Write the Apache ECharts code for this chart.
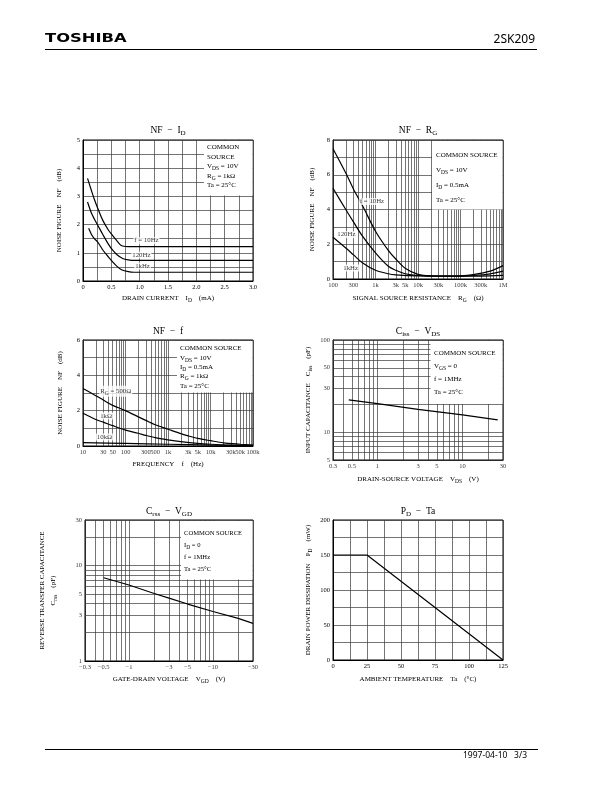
<!DOCTYPE html>
<html><head><meta charset="utf-8">
<script src="https://cdn.jsdelivr.net/npm/echarts@6/dist/echarts.min.js"></script>
<style>html,body{margin:0;padding:0;background:#fff}#c{width:612px;height:792px}</style>
</head><body><div id="c"></div>
<script>
// ================= DATA =================
// NF - ID  (ID in mA, NF in dB)
const nfId10Hz  = [[0.08,3.64],[0.15,3.2],[0.2,2.9],[0.26,2.58],[0.35,2.15],[0.45,1.8],[0.52,1.62],[0.6,1.42],[0.65,1.3],[0.7,1.24],[0.8,1.22],[3.0,1.22]];
const nfId120Hz = [[0.08,2.8],[0.15,2.4],[0.2,2.2],[0.26,1.98],[0.35,1.65],[0.45,1.3],[0.52,1.1],[0.6,0.93],[0.7,0.8],[0.8,0.75],[0.9,0.73],[3.0,0.73]];
const nfId1kHz  = [[0.1,1.87],[0.15,1.65],[0.2,1.5],[0.26,1.38],[0.35,1.1],[0.45,0.85],[0.52,0.69],[0.6,0.52],[0.68,0.4],[0.8,0.33],[0.9,0.31],[3.0,0.31]];
const nfIdCurveLabels = [[1.12,1.43,'f = 10Hz'],[1.03,0.92,'120Hz'],[1.05,0.53,'1kHz']];

// NF - RG  (RG in ohm, NF in dB)
const nfRg10Hz  = [[100,7.5],[200,6.1],[300,5.2],[500,4.2],[1000,2.75],[2000,1.65],[3000,1.15],[5000,0.62],[10000,0.27],[20000,0.18],[50000,0.17],[100000,0.18],[200000,0.25],[500000,0.45],[1000000,0.77]];
const nfRg120Hz = [[100,5.22],[200,4.0],[300,3.3],[500,2.45],[1000,1.5],[2000,0.73],[3000,0.5],[5000,0.3],[10000,0.2],[50000,0.17],[100000,0.17],[200000,0.2],[500000,0.3],[1000000,0.45]];
const nfRg1kHz  = [[100,2.4],[200,1.78],[300,1.4],[500,0.92],[1000,0.5],[2000,0.3],[3000,0.24],[10000,0.18],[100000,0.16],[300000,0.17],[1000000,0.21]];
const nfRgCurveLabels = [[828,4.46,'f = 10Hz'],[206,2.55,'120Hz'],[260,0.63,'1kHz']];

// NF - f  (f in Hz, NF in dB)
const nfF500  = [[10,3.26],[20,2.85],[30,2.6],[50,2.3],[100,2.0],[200,1.65],[300,1.45],[500,1.2],[1000,0.95],[2000,0.7],[3000,0.57],[5000,0.43],[10000,0.3],[20000,0.18],[50000,0.1],[100000,0.05]];
const nfF1k   = [[10,1.85],[20,1.5],[30,1.35],[50,1.15],[100,0.9],[200,0.72],[300,0.6],[500,0.47],[1000,0.35],[2000,0.25],[5000,0.15],[10000,0.1],[30000,0.05],[100000,0.03]];
const nfF10k  = [[10,0.19],[100,0.15],[1000,0.1],[10000,0.05],[100000,0.02]];
const nfFCurveLabels = [[59,3.1,'R{s|G} = 500\u03A9'],[35,1.7,'1k\u03A9'],[32,0.51,'10k\u03A9']];

// Ciss - VDS  (VDS in V, Ciss in pF)
const cissVds = [[0.46,22.4],[1,20.4],[3,17.7],[10,15.4],[26,13.6]];
// Crss - VGD  (|VGD| in V, Crss in pF)
const crssVgd = [[0.5,7.45],[1,6.25],[2,5.1],[3,4.55],[5,3.95],[10,3.3],[20,2.8],[30,2.48]];
// PD - Ta  (Ta in degC, PD in mW)
const pdTa = [[0,150],[25,150],[125,0]];

// tick labels
const rgTickVals = [100,300,1000,3000,5000,10000,30000,100000,300000,1000000];
const rgTickText = ['100','300','1k','3k','5k','10k','30k','100k','300k','1M'];
const fTickVals  = [10,30,50,100,300,500,1000,3000,5000,10000,30000,50000,100000];
const fTickText  = ['10','30','50','100','300','500','1k','3k','5k','10k','30k','50k','100k'];
const vdsTickVals = [0.3,0.5,1,3,5,10,30];
const vdsTickText = ['0.3','0.5','1','3','5','10','30'];
const cissTickVals = [5,10,30,50,100];
const cissTickText = ['5','10','30','50','100'];
const vgdTickVals = [0.3,0.5,1,3,5,10,30];
const vgdTickText = ['\u22120.3','\u22120.5','\u22121','\u22123','\u22125','\u221210','\u221230'];
const crssTickVals = [1,3,5,10,30];
const crssTickText = ['1','3','5','10','30'];

// ================= HELPERS =================
function logGrid(from, to) {
  const out = [];
  let dec = Math.pow(10, Math.floor(Math.log10(from) + 1e-9));
  while (dec <= to) {
    for (let m = 1; m <= 9; m++) {
      const v = +(m * dec).toPrecision(6);
      if (v >= from - 1e-9 && v <= to + 1e-9) out.push(v);
    }
    dec *= 10;
  }
  return out;
}

const serif = '"Liberation Serif","DejaVu Serif",serif';
const SUB = {fontSize: 5.5, fontFamily: serif, color: '#000', verticalAlign: 'middle', padding: [5, 0, 0, 0]};
const GSUB = {fontSize: 5.5, fontFamily: serif, fill: '#000', verticalAlign: 'middle', padding: [5, 0, 0, 0]};
const TSUB = {fontSize: 7, fontFamily: serif, fill: '#000', verticalAlign: 'middle', padding: [7, 0, 0, 0]};
const GRIDC = '#3a3a3a';

const grids = [
  {left: 83, top: 140, width: 170, height: 141},
  {left: 333, top: 140, width: 170, height: 139},
  {left: 83, top: 340, width: 170, height: 106},
  {left: 333, top: 340, width: 170, height: 120},
  {left: 85, top: 520, width: 168, height: 141},
  {left: 333, top: 520, width: 170, height: 140}
].map(g => Object.assign({show: true, borderColor: '#000', borderWidth: 1, containLabel: false}, g));

const labelStyle = {fontFamily: serif, fontSize: 6.5, color: '#000', margin: 3};
const nameStyle = {fontFamily: serif, fontSize: 7, color: '#000', lineHeight: 9, rich: {s: SUB}};

function axis(gi, opt) {
  return Object.assign({
    gridIndex: gi,
    axisLine: {show: true, lineStyle: {color: '#000', width: 1}},
    axisTick: {show: false},
    axisLabel: Object.assign({}, labelStyle),
    splitLine: {show: false},
    nameLocation: 'middle',
    nameTextStyle: nameStyle
  }, opt);
}
const lineSplit = {show: true, lineStyle: {color: GRIDC, width: 0.7}};

const xAxes = [
  axis(0, {type: 'value', min: 0, max: 3, interval: 0.25, splitLine: lineSplit,
    axisLabel: Object.assign({}, labelStyle, {formatter: v => (Math.round(v * 4) % 2 === 0) ? (v === 0 ? '0' : v.toFixed(1)) : ''}),
    name: 'DRAIN CURRENT    I{s|D}    (mA)', nameGap: 13}),
  axis(1, {type: 'log', logBase: 10, min: 100, max: 1000000, axisLabel: {show: false},
    name: 'SIGNAL SOURCE RESISTANCE    R{s|G}    (\u03A9)', nameGap: 15}),
  axis(2, {type: 'log', logBase: 10, min: 10, max: 100000, axisLabel: {show: false},
    name: 'FREQUENCY    f    (Hz)', nameGap: 14}),
  axis(3, {type: 'log', logBase: 10, min: 0.3, max: 30, axisLabel: {show: false},
    name: 'DRAIN-SOURCE VOLTAGE    V{s|DS}    (V)', nameGap: 15}),
  axis(4, {type: 'log', logBase: 10, min: 0.3, max: 30, axisLabel: {show: false},
    name: 'GATE-DRAIN VOLTAGE    V{s|GD}    (V)', nameGap: 14}),
  axis(5, {type: 'value', min: 0, max: 125, interval: 12.5, splitLine: lineSplit,
    axisLabel: Object.assign({}, labelStyle, {formatter: v => (v % 25 === 0) ? String(v) : ''}),
    name: 'AMBIENT TEMPERATURE    Ta    (\u00B0C)', nameGap: 15})
];
const yAxes = [
  axis(0, {type: 'value', min: 0, max: 5, interval: 0.5, splitLine: lineSplit,
    axisLabel: Object.assign({}, labelStyle, {formatter: v => Number.isInteger(v) ? String(v) : ''}),
    name: 'NOISE FIGURE    NF    (dB)', nameGap: 19}),
  axis(1, {type: 'value', min: 0, max: 8, interval: 1, splitLine: lineSplit,
    axisLabel: Object.assign({}, labelStyle, {formatter: v => (v % 2 === 0) ? String(v) : ''}),
    name: 'NOISE FIGURE    NF    (dB)', nameGap: 16}),
  axis(2, {type: 'value', min: 0, max: 6, interval: 1, splitLine: lineSplit,
    axisLabel: Object.assign({}, labelStyle, {formatter: v => (v % 2 === 0) ? String(v) : ''}),
    name: 'NOISE FIGURE    NF    (dB)', nameGap: 18}),
  axis(3, {type: 'log', logBase: 10, min: 5, max: 100, axisLabel: {show: false},
    name: 'INPUT CAPACITANCE    C{s|iss}    (pF)', nameGap: 20}),
  axis(4, {type: 'log', logBase: 10, min: 1, max: 30, axisLabel: {show: false},
    name: 'REVERSE TRANSFER CAPACITANCE\nC{s|rss}    (pF)', nameGap: 26,
    nameTextStyle: Object.assign({}, nameStyle, {lineHeight: 11})}),
  axis(5, {type: 'value', min: 0, max: 200, interval: 25, splitLine: lineSplit,
    axisLabel: Object.assign({}, labelStyle, {formatter: v => (v % 50 === 0) ? String(v) : ''}),
    name: 'DRAIN POWER DISSIPATION    P{s|D}    (mW)', nameGap: 20})
];

function gridLines(gi, xs, ys) {
  return {
    type: 'line', xAxisIndex: gi, yAxisIndex: gi, data: [], silent: true, z: 1,
    markLine: {
      silent: true, symbol: ['none', 'none'], animation: false, label: {show: false},
      lineStyle: {color: GRIDC, width: 0.7, type: 'solid'}, emphasis: {disabled: true},
      data: [].concat(xs.map(v => ({xAxis: v})), ys.map(v => ({yAxis: v})))
    }
  };
}
function tickLabels(gi, dir, vals, texts, fixed) {
  return {
    type: 'scatter', xAxisIndex: gi, yAxisIndex: gi, silent: true, z: 5, clip: false,
    symbolSize: 0.1, itemStyle: {color: 'rgba(0,0,0,0)'},
    data: vals.map(v => dir === 'x' ? [v, fixed] : [fixed, v]),
    label: {show: true, position: dir === 'x' ? 'bottom' : 'left', distance: 3,
      formatter: p => texts[p.dataIndex], fontFamily: serif, fontSize: 6.5, color: '#000'}
  };
}
function curve(gi, data, smooth) {
  return {type: 'line', xAxisIndex: gi, yAxisIndex: gi, data: data, showSymbol: false, symbol: 'none',
    smooth: smooth ? 0.3 : false, silent: true, z: 20,
    lineStyle: {color: '#000', width: 1.2}};
}
function curveLabels(gi, items) {
  return {
    type: 'scatter', xAxisIndex: gi, yAxisIndex: gi, silent: true, z: 30,
    symbolSize: 0.1, itemStyle: {color: 'rgba(0,0,0,0)'},
    data: items.map(it => [it[0], it[1]]),
    label: {show: true, position: 'inside', formatter: p => items[p.dataIndex][2],
      fontFamily: serif, fontSize: 6.8, color: '#000', backgroundColor: '#fff', padding: [0, 1],
      rich: {s: SUB}}
  };
}

const series = [
  // chart 1
  curve(0, nfId10Hz, true), curve(0, nfId120Hz, true), curve(0, nfId1kHz, true),
  curveLabels(0, nfIdCurveLabels),
  // chart 2
  gridLines(1, logGrid(100, 1000000), []),
  curve(1, nfRg10Hz, true), curve(1, nfRg120Hz, true), curve(1, nfRg1kHz, true),
  curveLabels(1, nfRgCurveLabels),
  tickLabels(1, 'x', rgTickVals, rgTickText, 0),
  // chart 3
  gridLines(2, logGrid(10, 100000), []),
  curve(2, nfF500, true), curve(2, nfF1k, true), curve(2, nfF10k, true),
  curveLabels(2, nfFCurveLabels),
  tickLabels(2, 'x', fTickVals, fTickText, 0),
  // chart 4
  gridLines(3, logGrid(0.3, 30), logGrid(5, 100)),
  curve(3, cissVds, false),
  tickLabels(3, 'x', vdsTickVals, vdsTickText, 5),
  tickLabels(3, 'y', cissTickVals, cissTickText, 0.3),
  // chart 5
  gridLines(4, logGrid(0.3, 30), logGrid(2, 30)),
  curve(4, crssVgd, false),
  tickLabels(4, 'x', vgdTickVals, vgdTickText, 1),
  tickLabels(4, 'y', crssTickVals, crssTickText, 0.3),
  // chart 6
  curve(5, pdTa, false)
];

// ---------- graphics: titles, condition boxes, header/footer ----------
function gtext(x, y, text, opts) {
  return Object.assign({type: 'text', x: x, y: y, z: 60, silent: true,
    style: Object.assign({text: text, fill: '#000', fontFamily: serif, fontSize: 9.5, align: 'center', verticalAlign: 'middle'}, opts || {})});
}
function box(x, y, w, h) {
  return {type: 'rect', shape: {x: x, y: y, width: w, height: h}, z: 50, silent: true, style: {fill: '#fff'}};
}
function boxText(x, y, text, lh, fs) {
  return {type: 'text', x: x, y: y, z: 60, silent: true,
    style: {text: text, fill: '#000', fontFamily: serif, fontSize: fs || 7, lineHeight: lh, align: 'left', verticalAlign: 'top', rich: {s: GSUB}}};
}
const T = {rich: {s: TSUB}};
const graphics = [
  // header / footer
  {type: 'text', x: 45, y: 39.5, scaleX: 1.42, z: 60, silent: true,
    style: {text: 'TOSHIBA', fill: '#000', fontFamily: '"DejaVu Sans",sans-serif', fontWeight: 'bold', fontSize: 11.5, align: 'left', verticalAlign: 'middle'}},
  gtext(535, 39.5, '2SK209', {fontFamily: '"Noto Sans",sans-serif', fontSize: 12, align: 'right'}),
  {type: 'line', shape: {x1: 45, y1: 49.5, x2: 537, y2: 49.5}, style: {stroke: '#000', lineWidth: 1}, silent: true},
  {type: 'line', shape: {x1: 45, y1: 749.5, x2: 538, y2: 749.5}, style: {stroke: '#000', lineWidth: 1}, silent: true},
  gtext(463, 756, '1997-04-10', {fontFamily: '"Noto Sans",sans-serif', fontSize: 8.5, align: 'left'}),
  gtext(527, 756, '3/3', {fontFamily: '"Noto Sans",sans-serif', fontSize: 8.5, align: 'right'}),
  // titles
  gtext(168, 130, 'NF  \u2212  I{s|D}', T),
  gtext(418, 130, 'NF  \u2212  R{s|G}', T),
  gtext(168, 331, 'NF  \u2212  f', T),
  gtext(418, 331, 'C{s|iss}  \u2212  V{s|DS}', T),
  gtext(169, 511, 'C{s|rss}  \u2212  V{s|GD}', T),
  gtext(418, 511, 'P{s|D}  \u2212  Ta', T),
  // condition boxes
  box(204, 141, 48.5, 54.5),
  boxText(207, 142.5, 'COMMON\nSOURCE\nV{s|DS} = 10V\nR{s|G} = 1k\u03A9\nTa = 25\u00B0C', 9.5),
  box(432, 141, 70.5, 68.5),
  boxText(436, 147.5, 'COMMON SOURCE\nV{s|DS} = 10V\nI{s|D} = 0.5mA\nTa = 25\u00B0C', 15),
  box(177, 341, 75.5, 51.5),
  boxText(180, 344, 'COMMON SOURCE\nV{s|DS} = 10V\nI{s|D} = 0.5mA\nR{s|G} = 1k\u03A9\nTa = 25\u00B0C', 9.3),
  box(430.5, 341, 72, 63),
  boxText(434, 346.5, 'COMMON SOURCE\nV{s|GS} = 0\nf = 1MHz\nTa = 25\u00B0C', 13),
  box(181, 521, 71.5, 58.5),
  boxText(184, 527, 'COMMON SOURCE\nI{s|D} = 0\nf = 1MHz\nTa = 25\u00B0C', 12.2, 6.6)
];

const chart = echarts.init(document.getElementById('c'), null, {renderer: 'canvas'});
chart.setOption({
  animation: false,
  backgroundColor: '#fff',
  grid: grids,
  xAxis: xAxes,
  yAxis: yAxes,
  series: series,
  graphic: {elements: graphics}
});
</script>
</body></html>
